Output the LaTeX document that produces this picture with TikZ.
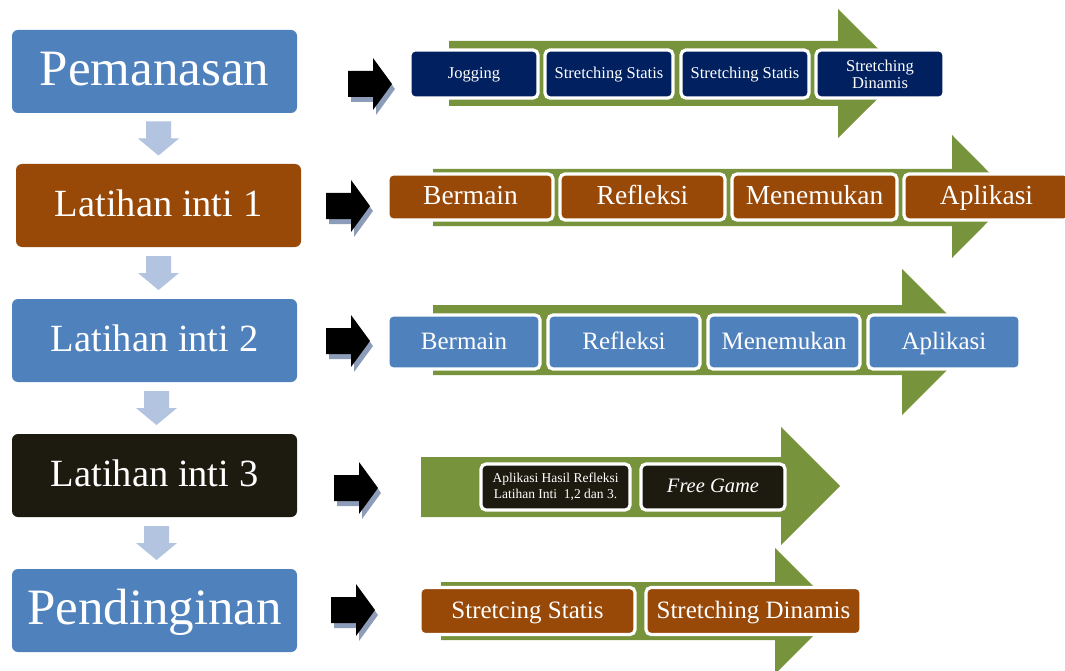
\documentclass[tikz,border=0pt]{standalone}
\usepackage{fontspec}
\setmainfont{Liberation Serif}
\usetikzlibrary{calc}
\definecolor{stepblue}{RGB}{79,129,189}
\definecolor{stepbrown}{RGB}{152,72,7}
\definecolor{stepnavy}{RGB}{0,32,96}
\definecolor{stepdark}{RGB}{29,27,16}
\definecolor{bandgreen}{RGB}{119,147,60}
\definecolor{flowblue}{RGB}{178,196,224}
\definecolor{shadowblue}{RGB}{141,156,184}
\newcommand\fsz[1]{\fontsize{#1}{#1}\selectfont}
\begin{document}
\begin{tikzpicture}[x=1pt,y=-1pt,
  phase/.style={rounded corners=6pt, minimum width=285pt, minimum height=83pt,
    inner sep=0pt, text=white},
  task/.style={rounded corners=5pt, draw=white, line width=3.2pt, inner sep=0pt,
    text=white, align=center},
  line1/.style={text height=0.76*#1, text depth=0.2*#1, font=\fsz{#1}},
  pics/downflow/.style={code={
    \fill[flowblue] (-12.5,-17) -- (12.5,-17) -- (12.5,0) -- (20.5,0) -- (0,17)
      -- (-20.5,0) -- (-12.5,0) -- cycle;}},
  pics/pointer/.style={code={
    \fill[shadowblue] (3,5) ++(0,-13) -- ++(25,0) -- ++(0,-13) -- ++(19,26)
      -- ++(-19,26) -- ++(0,-13) -- ++(-25,0) -- cycle;
    \fill[black] (0,-13) -- (25,-13) -- (25,-26) -- (44,0) -- (25,26)
      -- (25,13) -- (0,13) -- cycle;}}]
\useasboundingbox (0,0) rectangle (1065,671);
\fill[white] (0,0) rectangle (1065,671);

% phases on the left
\node[phase, fill=stepblue, line1=51]    (pem) at (154.5,71.5)  {Pemanasan};
\node[phase, fill=stepbrown, line1=38.5] (li1) at (158.5,205.5) {Latihan inti 1};
\node[phase, fill=stepblue, line1=38.5]  (li2) at (154.5,340.5) {Latihan inti 2};
\node[phase, fill=stepdark, line1=38.5]  (li3) at (154.5,475.5) {Latihan inti 3};
\node[phase, fill=stepblue, line1=51]    (pen) at (154.5,610.5) {Pendinginan};

% flow between phases
\pic at ([xshift=2pt]$(pem.south)!0.5!(li1.north)$) {downflow};
\pic at ([xshift=2pt]$(li1.south)!0.5!(li2.north)$) {downflow};
\pic at ([xshift=2pt]$(li2.south)!0.5!(li3.north)$) {downflow};
\pic at ([xshift=2pt]$(li3.south)!0.5!(pen.north)$) {downflow};

% pointers from each phase to its activities
\pic at (348,84)  {pointer};
\pic at (326,206) {pointer};
\pic at (326,341) {pointer};
\pic at (334,488) {pointer};
\pic at (331,610) {pointer};

% green process bands
\fill[bandgreen] (449,41) -- (838,41) -- (838,9) -- (903,73.5) -- (838,138)
  -- (838,106) -- (449,106) -- cycle;
\fill[bandgreen] (433,169) -- (952,169) -- (952,135) -- (1013,196.5) -- (952,258)
  -- (952,226) -- (433,226) -- cycle;
\fill[bandgreen] (433,305) -- (902,305) -- (902,269) -- (975,342) -- (902,415)
  -- (902,375) -- (433,375) -- cycle;
\fill[bandgreen] (421,457) -- (781,457) -- (781,427) -- (840,486) -- (781,545)
  -- (781,517) -- (421,517) -- cycle;
\fill[bandgreen] (441,582) -- (775,582) -- (775,548) -- (838,611) -- (775,674)
  -- (775,640) -- (441,640) -- cycle;

% warming up
\begin{scope}[every node/.style={task, fill=stepnavy, minimum width=128pt,
    minimum height=48pt}]
  \node[line1=16.5] (w1) at (474,74) {Jogging};
  \node[line1=16.5] (w2) at (609,74) {Stretching Statis};
  \node[line1=16.5] (w3) at (745,74) {Stretching Statis};
  \node[font=\fontsize{16.5}{17}\selectfont] (w4) at (880,74) {Stretching\\Dinamis};
\end{scope}

% core 1
\begin{scope}[every node/.style={task, fill=stepbrown, minimum width=165pt,
    minimum height=46pt, line1=27.5}]
  \node (a1) at (470.5,197) {Bermain};
  \node (a2) at (642.5,197) {Refleksi};
  \node (a3) at (814.5,197) {Menemukan};
  \node (a4) at (986.5,197) {Aplikasi};
\end{scope}

% core 2
\begin{scope}[every node/.style={task, fill=stepblue, minimum width=152pt,
    minimum height=54pt, line1=25}]
  \node (b1) at (464,342) {Bermain};
  \node (b2) at (624,342) {Refleksi};
  \node (b3) at (784,342) {Menemukan};
  \node (b4) at (944,342) {Aplikasi};
\end{scope}

% core 3
\begin{scope}[every node/.style={task, fill=stepdark, minimum height=46pt}]
  \node[minimum width=149pt, font=\fontsize{13.5}{16}\selectfont] (c1) at (555.5,487)
    {Aplikasi Hasil Refleksi\\Latihan Inti\ \ 1,2 dan 3.};
  \node[minimum width=144pt, line1=20.5, font=\fsz{20.5}\itshape] (c2) at (713,487)
    {Free Game};
\end{scope}

% cooling down
\begin{scope}[every node/.style={task, fill=stepbrown, minimum width=215pt,
    minimum height=47pt, line1=25}]
  \node (d1) at (527.5,611) {Stretcing Statis};
  \node (d2) at (753.5,611) {Stretching Dinamis};
\end{scope}
\end{tikzpicture}
\end{document}
